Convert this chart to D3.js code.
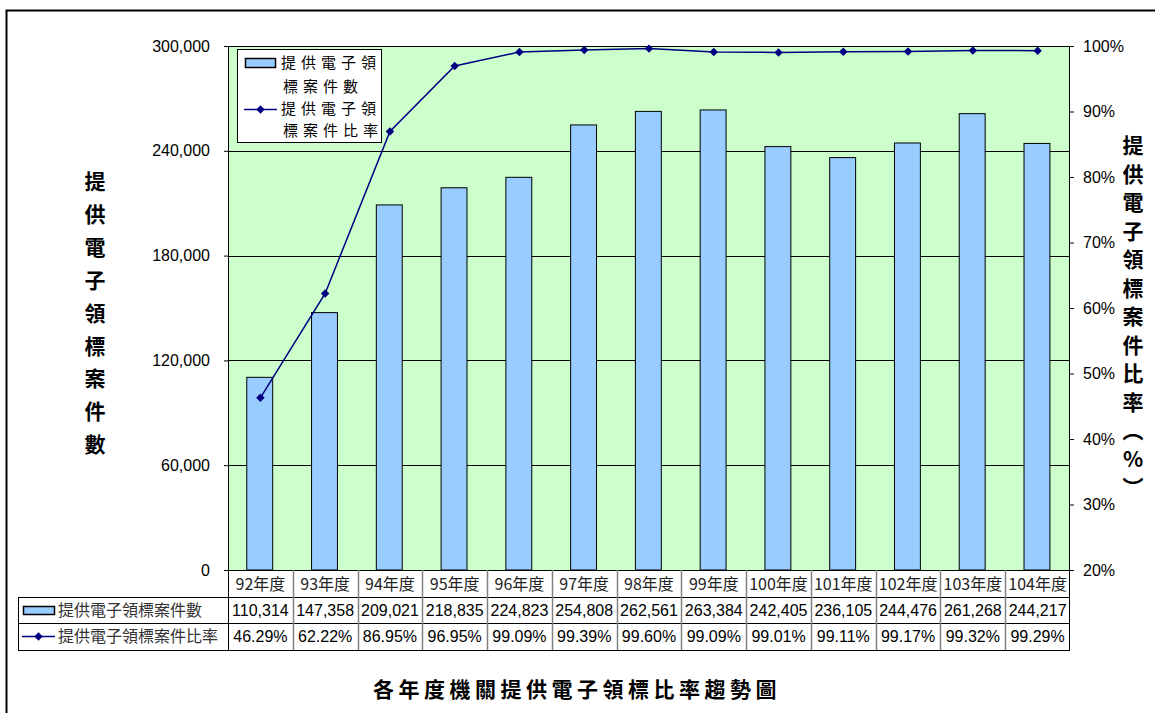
<!DOCTYPE html>
<html><head><meta charset="utf-8">
<script src="https://cdn.jsdelivr.net/npm/d3@7"></script>
<style>
body{margin:0;background:#fff;}
svg text{font-family:"Liberation Sans",Arial,sans-serif;}
.cjk{font-family:"Noto Sans CJK TC","Noto Sans CJK SC",sans-serif;}
</style></head>
<body>
<svg id="c" width="1155" height="713"></svg>
<script>
const categories = ["92年度","93年度","94年度","95年度","96年度","97年度","98年度","99年度","100年度","101年度","102年度","103年度","104年度"];
const caseCounts = [110314,147358,209021,218835,224823,254808,262561,263384,242405,236105,244476,261268,244217];
const ratioValues = [46.29,62.22,86.95,96.95,99.09,99.39,99.60,99.09,99.01,99.11,99.17,99.32,99.29];
const leftTicks = [0,60000,120000,180000,240000,300000];
const rightTicks = [20,30,40,50,60,70,80,90,100];
const seriesNames = ["提供電子領標案件數","提供電子領標案件比率"];
const leftTitle = "提供電子領標案件數";
const rightTitle = ["提","供","電","子","領","標","案","件","比","率","︵","%","︶"];
const chartTitle = "各年度機關提供電子領標比率趨勢圖";

const svg = d3.select("#c");
const L=228, R=1070, T=46, B=570;
const x = d3.scaleBand().domain(categories).range([L,R]);
const yL = d3.scaleLinear().domain([0,300000]).range([B,T]);
const yR = d3.scaleLinear().domain([20,100]).range([B,T]);
const bw = x.bandwidth();

// outer border
svg.append("path").attr("d",`M6.5,713 V10.5 H1155`).attr("fill","none").attr("stroke","#000").attr("stroke-width",2);

// plot area
svg.append("rect").attr("x",L).attr("y",T).attr("width",R-L).attr("height",B-T).attr("fill","#CCFFCC");
// gridlines
svg.append("g").selectAll("line").data(leftTicks.filter(d=>d>0)).join("line")
  .attr("x1",L).attr("x2",R).attr("y1",d=>Math.round(yL(d))+0.5).attr("y2",d=>Math.round(yL(d))+0.5)
  .attr("stroke","#000").attr("stroke-width",1);

// bars
svg.append("g").selectAll("rect").data(caseCounts).join("rect")
  .attr("x",(d,i)=>x(categories[i])+bw*0.29)
  .attr("y",d=>yL(d)).attr("width",bw*0.4).attr("height",d=>B-yL(d))
  .attr("fill","#99CCFF").attr("stroke","#000").attr("stroke-width",1);

// plot border
svg.append("rect").attr("x",L+0.5).attr("y",T+0.5).attr("width",R-L-1).attr("height",B-T).attr("fill","none").attr("stroke","#000").attr("stroke-width",1);

// axes
const axL = d3.axisLeft(yL).tickValues(leftTicks).tickSize(4).tickFormat(d3.format(","));
const gL = svg.append("g").attr("transform",`translate(${L},0)`).call(axL);
gL.select(".domain").remove();
gL.selectAll("text").attr("x",-18).attr("font-size",16).attr("font-family","Liberation Sans, Arial").attr("fill","#000");
const axR = d3.axisRight(yR).tickValues(rightTicks).tickSize(4).tickFormat(d=>d+"%");
const gR = svg.append("g").attr("transform",`translate(${R},0)`).call(axR);
gR.select(".domain").remove();
gR.selectAll("text").attr("x",13).attr("font-size",16).attr("font-family","Liberation Sans, Arial").attr("fill","#000");

// line
const line = d3.line().x((d,i)=>x(categories[i])+bw/2).y(d=>yR(d));
svg.append("path").datum(ratioValues).attr("d",line).attr("fill","none").attr("stroke","#000080").attr("stroke-width",1.5);
svg.append("g").selectAll("path").data(ratioValues).join("path")
  .attr("transform",(d,i)=>`translate(${x(categories[i])+bw/2},${yR(d)}) rotate(45)`)
  .attr("d",d3.symbol().type(d3.symbolSquare).size(36)).attr("fill","#000080");

// legend
const lg = svg.append("g");
lg.append("rect").attr("x",237.5).attr("y",49.5).attr("width",144).attr("height",93).attr("fill","#fff").attr("stroke","#000");
lg.append("rect").attr("x",245.5).attr("y",58.5).attr("width",30).attr("height",9).attr("fill","#99CCFF").attr("stroke","#000").attr("stroke-width",1.5);
const legLines = [["提供電子領",68],["標案件數",92],["提供電子領",114],["標案件比率",136]];
lg.selectAll("text").data(legLines).join("text").attr("class","cjk")
  .attr("x",(d,i)=>i%2? 283 : 281).attr("y",d=>d[1]).attr("font-size",15).attr("letter-spacing",5).text(d=>d[0]);
lg.append("line").attr("x1",244).attr("x2",277).attr("y1",109.5).attr("y2",109.5).attr("stroke","#000080").attr("stroke-width",1.5);
lg.append("path").attr("transform","translate(260.5,109.5) rotate(45)").attr("d",d3.symbol().type(d3.symbolSquare).size(36)).attr("fill","#000080");

// data table
const tb = svg.append("g");
const tcol = "#808080";
tb.append("line").attr("x1",L).attr("x2",R).attr("y1",570.5).attr("y2",570.5).attr("stroke","#000");
[597,623,650].forEach(yy=>tb.append("line").attr("x1",18).attr("x2",R).attr("y1",yy+0.5).attr("y2",yy+0.5).attr("stroke","#000"));
categories.forEach((c,i)=>{ tb.append("line").attr("x1",Math.round(x(c))+0.5).attr("x2",Math.round(x(c))+0.5).attr("y1",570).attr("y2",650).attr("stroke",i==0?"#000":tcol).attr("stroke-width",i==0?1:1.5); });
tb.append("line").attr("x1",R-0.5).attr("x2",R-0.5).attr("y1",570).attr("y2",650.5).attr("stroke","#000");
tb.append("line").attr("x1",18.5).attr("x2",18.5).attr("y1",597).attr("y2",650.5).attr("stroke","#000");
tb.selectAll("text.h").data(categories).join("text").attr("class","h cjk")
  .attr("x",d=>x(d)+bw/2).attr("y",590).attr("text-anchor","middle").attr("font-size",16).attr("fill","#222").text(d=>d);
tb.selectAll("text.v").data(caseCounts).join("text").attr("class","v")
  .attr("x",(d,i)=>x(categories[i])+bw/2).attr("y",616).attr("text-anchor","middle").attr("font-size",16).attr("fill","#000").text(d=>d3.format(",")(d));
tb.selectAll("text.r").data(ratioValues).join("text").attr("class","r")
  .attr("x",(d,i)=>x(categories[i])+bw/2).attr("y",642).attr("text-anchor","middle").attr("font-size",16).attr("fill","#000").text(d=>d.toFixed(2)+"%");
tb.append("rect").attr("x",23.5).attr("y",606.5).attr("width",31).attr("height",8).attr("fill","#99CCFF").attr("stroke","#000").attr("stroke-width",1.5);
tb.append("text").attr("class","cjk").attr("x",58).attr("y",616).attr("font-size",16).attr("fill","#333").text(seriesNames[0]);
tb.append("line").attr("x1",22).attr("x2",55).attr("y1",636.5).attr("y2",636.5).attr("stroke","#000080").attr("stroke-width",1.5);
tb.append("path").attr("transform","translate(38.5,636.5) rotate(45)").attr("d",d3.symbol().type(d3.symbolSquare).size(36)).attr("fill","#000080");
tb.append("text").attr("class","cjk").attr("x",58).attr("y",642).attr("font-size",16).attr("fill","#333").text(seriesNames[1]);

// axis titles
svg.append("g").selectAll("text").data(Array.from(leftTitle)).join("text").attr("class","cjk")
  .attr("x",95).attr("y",(d,i)=>189+i*32.9).attr("text-anchor","middle").attr("font-size",21).attr("font-weight","bold").text(d=>d);
svg.append("g").selectAll("text").data(rightTitle).join("text").attr("class","cjk")
  .attr("x",1133).attr("y",(d,i)=>153+i*28.5).attr("text-anchor","middle").attr("font-size",21).attr("font-weight","bold").text(d=>d);

// title
svg.append("text").attr("class","cjk").attr("x",577).attr("y",697).attr("text-anchor","middle")
  .attr("font-size",21).attr("font-weight","bold").attr("letter-spacing",4.5).text(chartTitle);
</script>
</body></html>
